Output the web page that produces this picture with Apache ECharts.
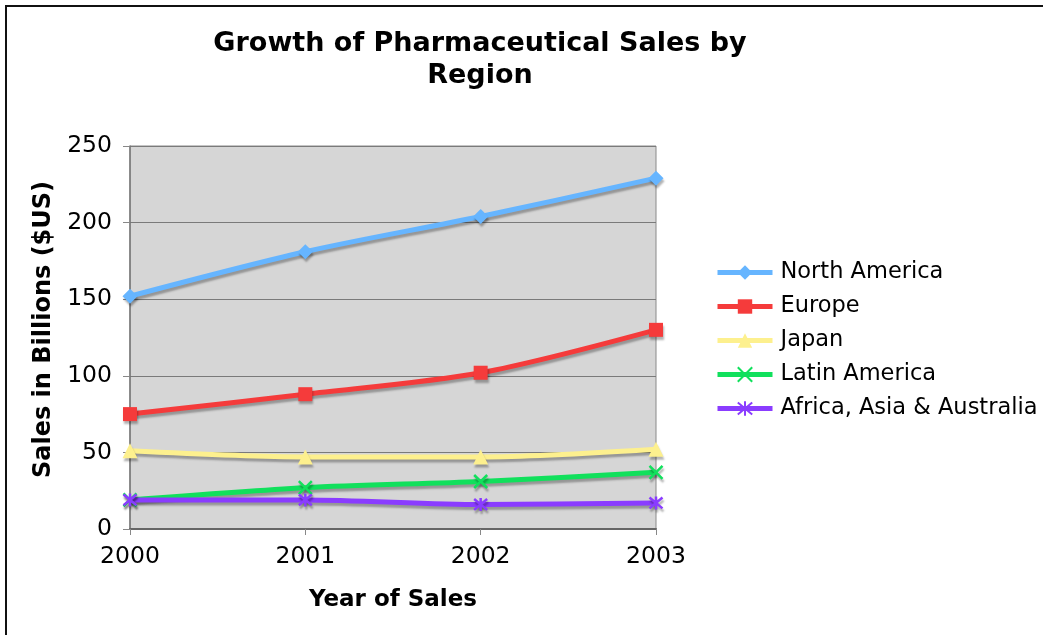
<!DOCTYPE html>
<html>
<head>
<meta charset="utf-8">
<title>Growth of Pharmaceutical Sales by Region</title>
<script src="https://cdn.jsdelivr.net/npm/echarts@6/dist/echarts.min.js"></script>
<style>
  html, body { margin: 0; padding: 0; background: #fff; }
  #chart { width: 1043px; height: 635px; }
</style>
</head>
<body>
<div id="chart"></div>
<script>
// Sales in billions of US dollars, by region and year
const years = ['2000', '2001', '2002', '2003'];
const northAmerica = [152, 181, 204, 229];
const europe = [75, 88, 102, 130];
const japan = [51, 47, 47, 52];
const latinAmerica = [19, 27, 31, 37];
const africaAsiaAustralia = [19, 19, 16, 17];
const yTicks = [0, 50, 100, 150, 200, 250];

const FONT = '"DejaVu Sans", Verdana, sans-serif';

// Stroked glyphs for the cross and asterisk markers
const crossPath = 'path://M0,0L10,10M10,0L0,10';
const starPath = 'path://M0,0L10,10M10,0L0,10M5,-1L5,11';

function makeSeries(name, data, color, symbol, size, stroked) {
  return {
    name: name,
    type: 'line',
    data: data,
    smooth: 0.3,
    symbol: symbol,
    symbolSize: size,
    showAllSymbol: true,
    lineStyle: {
      width: 5,
      color: color,
      shadowColor: 'rgba(0,0,0,0.3)',
      shadowBlur: 2,
      shadowOffsetX: 1,
      shadowOffsetY: 3
    },
    itemStyle: {
      color: stroked ? 'rgba(0,0,0,0)' : color,
      borderColor: color,
      borderWidth: stroked ? 2.5 : 0,
      shadowColor: 'rgba(0,0,0,0.3)',
      shadowBlur: 2,
      shadowOffsetX: 1,
      shadowOffsetY: 3
    },
    emphasis: { disabled: true }
  };
}

const chart = echarts.init(document.getElementById('chart'), null, { renderer: 'canvas' });

chart.setOption({
  animation: false,
  backgroundColor: '#ffffff',
  textStyle: { fontFamily: FONT },
  graphic: [{
    type: 'rect',
    shape: { x: 6, y: 6, width: 1200, height: 800 },
    style: { fill: 'none', stroke: '#111', lineWidth: 2 },
    silent: true
  }],
  title: {
    text: 'Growth of Pharmaceutical Sales by\nRegion',
    left: 475,
    top: 23,
    textAlign: 'center',
    textStyle: {
      fontFamily: FONT,
      fontWeight: 'bold',
      fontSize: 27,
      lineHeight: 32,
      color: '#000'
    }
  },
  legend: {
    orient: 'vertical',
    left: 715,
    top: 261,
    padding: 0,
    itemWidth: 55,
    itemHeight: 18,
    itemGap: 11,
    lineStyle: { width: 5, shadowBlur: 0, shadowOffsetX: 0, shadowOffsetY: 0 },
    itemStyle: { shadowBlur: 0, shadowOffsetX: 0, shadowOffsetY: 0 },
    textStyle: { fontFamily: FONT, fontSize: 22.5, color: '#000', padding: [0, 0, 0, 3] },
    data: ['North America', 'Europe', 'Japan', 'Latin America', 'Africa, Asia & Australia']
  },
  grid: {
    left: 130,
    right: 387,
    top: 146,
    bottom: 106,
    show: true,
    backgroundColor: '#d6d6d6',
    borderColor: '#8a8a8a',
    borderWidth: 1
  },
  xAxis: {
    type: 'category',
    data: years,
    boundaryGap: false,
    name: 'Year of Sales',
    nameLocation: 'middle',
    nameGap: 60,
    nameTextStyle: { fontFamily: FONT, fontWeight: 'bold', fontSize: 23, color: '#000' },
    axisLine: { lineStyle: { color: '#666', width: 2 } },
    axisTick: { show: true, alignWithLabel: true, length: 6, lineStyle: { color: '#888' } },
    axisLabel: { fontFamily: FONT, fontSize: 23.5, color: '#000', margin: 16 },
    splitLine: { show: false }
  },
  yAxis: {
    type: 'value',
    min: yTicks[0],
    max: yTicks[yTicks.length - 1],
    interval: yTicks[1] - yTicks[0],
    name: 'Sales in Billions ($US)',
    nameLocation: 'middle',
    nameGap: 74,
    nameRotate: 90,
    nameTextStyle: { fontFamily: FONT, fontWeight: 'bold', fontSize: 24, color: '#000', padding: [0, 0, 0, 16] },
    axisLine: { show: true, lineStyle: { color: '#777', width: 1.5 } },
    axisTick: { show: true, length: 7, lineStyle: { color: '#888' } },
    axisLabel: { fontFamily: FONT, fontSize: 23.5, color: '#000', margin: 18 },
    splitLine: { show: true, lineStyle: { color: '#7a7a7a', width: 1 } }
  },
  series: [
    makeSeries('North America', northAmerica, '#66b5ff', 'diamond', 15, false),
    makeSeries('Europe', europe, '#f53b3b', 'rect', 14, false),
    makeSeries('Japan', japan, '#fdf08e', 'triangle', 15, false),
    makeSeries('Latin America', latinAmerica, '#11e05c', crossPath, 13, true),
    makeSeries('Africa, Asia & Australia', africaAsiaAustralia, '#8a3cff', starPath, 13, true)
  ]
});
</script>
</body>
</html>
